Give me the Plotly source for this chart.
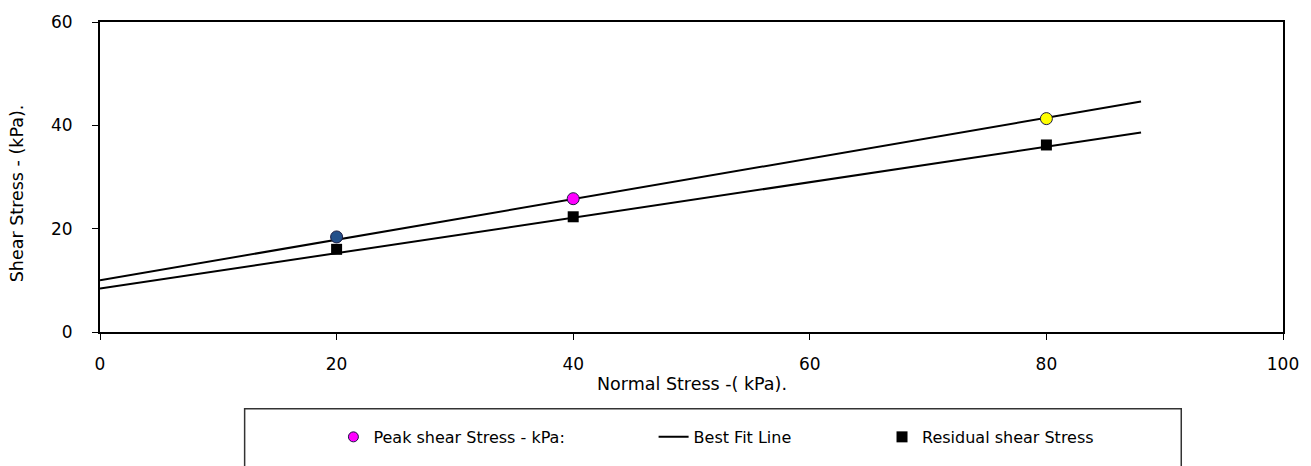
import plotly.graph_objects as go

# ---- data ----
normal_stress = [20, 40, 80]
peak_shear = [18.4, 25.8, 41.3]
residual_shear = [16.0, 22.3, 36.2]
peak_colors = ["#24508A", "#FF00FF", "#FFFF00"]

fit_x = [0, 88]
peak_fit = [10.0, 44.6]
residual_fit = [8.4, 38.6]

x_ticks = [0, 20, 40, 60, 80, 100]
y_ticks = [0, 20, 40, 60]

W, H = 1311, 466
L, R, T, B = 100, 25, 15, 132
pw, ph = W - L - R, H - T - B


def px_x(p):
    return (p - L) / pw


def px_y(p):
    return (H - B - p) / ph


FONT = dict(family="DejaVu Sans", size=16, color="#000000")
TICKFONT = dict(family="DejaVu Sans", size=17, color="#000000")
TITLEFONT = dict(family="DejaVu Sans", size=17.5, color="#000000")

fig = go.Figure()

# best fit lines
fig.add_trace(go.Scatter(x=fit_x, y=peak_fit, mode="lines",
                         line=dict(color="black", width=2),
                         name="Best Fit Line", legend="legend2"))
fig.add_trace(go.Scatter(x=fit_x, y=residual_fit, mode="lines",
                         line=dict(color="black", width=2),
                         name="Best Fit Line", showlegend=False, legend="legend2"))

# residual points
fig.add_trace(go.Scatter(x=normal_stress, y=residual_shear, mode="markers",
                         marker=dict(symbol="square", size=11, color="black",
                                     line=dict(color="black", width=0)),
                         name="Residual shear Stress", legend="legend3"))

# peak points
fig.add_trace(go.Scatter(x=normal_stress, y=peak_shear, mode="markers",
                         marker=dict(symbol="circle", size=12, color=peak_colors,
                                     line=dict(color="#1a1a40", width=1)),
                         name="Peak shear Stress - kPa:", showlegend=False))
fig.add_trace(go.Scatter(x=[None], y=[None], mode="markers",
                         marker=dict(symbol="circle", size=10, color="#FF00FF",
                                     line=dict(color="#1a1a40", width=1)),
                         name="Peak shear Stress - kPa:", legend="legend"))

leg_common = dict(orientation="h", bgcolor="rgba(0,0,0,0)", borderwidth=0,
                  font=FONT, xanchor="left", yanchor="middle",
                  y=px_y(442))

fig.update_layout(
    width=W, height=H,
    margin=dict(l=L, r=R, t=T, b=B),
    paper_bgcolor="white", plot_bgcolor="white",
    font=FONT,
    legend=dict(**leg_common, x=px_x(334)),
    legend2=dict(**leg_common, x=px_x(655)),
    legend3=dict(**leg_common, x=px_x(884)),
    xaxis=dict(range=[0, 100], tickvals=x_ticks, showgrid=False, zeroline=False,
               showline=True, linecolor="#000000", linewidth=2, mirror=True,
               ticks="outside", ticklen=6, tickcolor="#000000", tickwidth=1,
               ticklabelstandoff=10, tickfont=TICKFONT),
    yaxis=dict(range=[0, 60], tickvals=y_ticks, showgrid=False, zeroline=False,
               showline=True, linecolor="#000000", linewidth=2, mirror=True,
               ticks="outside", ticklen=6, tickcolor="#000000", tickwidth=1,
               ticklabelstandoff=16, tickfont=TICKFONT),
    annotations=[
        dict(text="Normal Stress -( kPa).", xref="paper", yref="paper",
             x=px_x(693), y=px_y(387), xanchor="center", yanchor="middle",
             showarrow=False, font=TITLEFONT),
        dict(text="Shear Stress - (kPa).", xref="paper", yref="paper",
             x=px_x(17), y=px_y(191), xanchor="center", yanchor="middle",
             textangle=-90, showarrow=False, font=TITLEFONT),
    ],
    shapes=[
        dict(type="rect", xref="paper", yref="paper",
             x0=px_x(245), x1=px_x(1184), y0=px_y(413), y1=px_y(520),
             line=dict(color="#333333", width=1.5), fillcolor="rgba(0,0,0,0)"),
    ],
)

fig.write_html("out.html",
               config={"displayModeBar": False},
               post_script="document.body.style.margin='0px';document.body.style.padding='0px';")
